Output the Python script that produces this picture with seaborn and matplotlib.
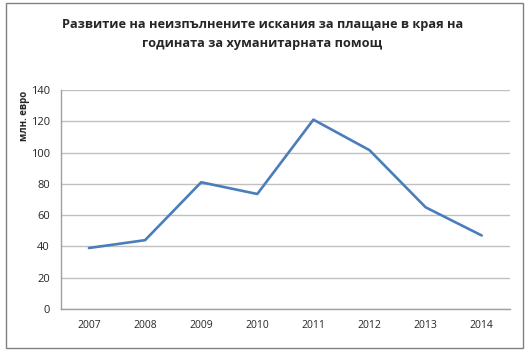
import seaborn as sns
import matplotlib.pyplot as plt
import pandas as pd
from matplotlib.patches import Rectangle

years = ['2007', '2008', '2009', '2010', '2011', '2012', '2013', '2014']
values = [39, 44, 81, 73.5, 121, 101.5, 65, 47]

df = pd.DataFrame({'year': years, 'value': values})

sns.set_style("white")
plt.rcParams['font.family'] = ['Open Sans', 'DejaVu Sans']

fig = plt.figure(figsize=(5.25, 3.54), dpi=100)
ax = fig.add_axes([0.116, 0.127, 0.855, 0.619])

sns.lineplot(data=df, x='year', y='value', color='#4a7ebb', linewidth=1.9, ax=ax)

ax.set_ylim(0, 140)
ax.set_yticks(range(0, 141, 20))
ax.set_xlim(-0.5, 7.5)
ax.set_xticks(range(len(years)))
ax.set_xticklabels(years)
ax.set_xticks([i - 0.5 for i in range(len(years) + 1)], minor=True)
ax.tick_params(axis='x', which='major', length=0, labelsize=7.5, pad=8)
ax.tick_params(axis='x', which='minor', length=4, color='#a0a0a0', direction='out')
ax.tick_params(axis='y', length=4, color='#a0a0a0', direction='out', labelsize=8, pad=4)
ax.yaxis.grid(True, color='#c0c0c0', linewidth=1)
ax.set_axisbelow(True)
for s in ['top', 'right']:
    ax.spines[s].set_visible(False)
for s in ['left', 'bottom']:
    ax.spines[s].set_color('#a0a0a0')
    ax.spines[s].set_linewidth(1)

ax.set_xlabel('')
ax.set_ylabel('')
fig.text(0.047, 0.745, 'млн. евро', rotation=90, fontsize=7, fontweight='bold',
         ha='center', va='top')

fig.text(0.5, 0.95, 'Развитие на неизпълнените искания за плащане в края на\nгодината за хуманитарната помощ',
         ha='center', va='top', fontsize=9.2, fontweight='bold', linespacing=1.6)

fig.patches.append(Rectangle((0.011, 0.017), 0.985, 0.975, transform=fig.transFigure,
                             fill=False, edgecolor='#808080', linewidth=1))

plt.savefig('out.png', dpi=100)
